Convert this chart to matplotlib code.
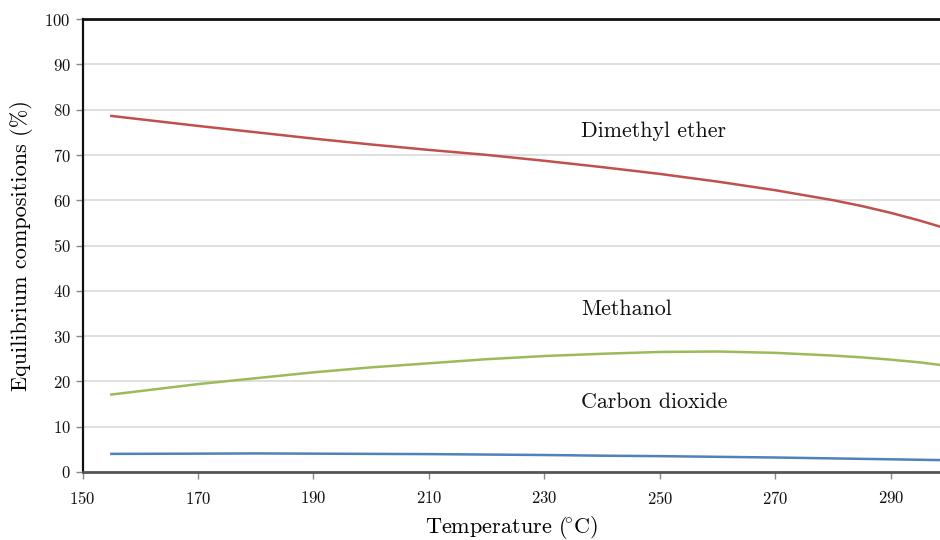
import matplotlib
matplotlib.use("Agg")
import matplotlib.pyplot as plt

plt.rcParams["font.family"] = ["cmr10", "DejaVu Serif"]
plt.rcParams["mathtext.fontset"] = "cm"
plt.rcParams["axes.formatter.use_mathtext"] = True

# Equilibrium composition vs temperature (%)
temperature = [155, 170, 180, 190, 200, 210, 220, 230, 240, 250, 260, 270, 280, 285, 290, 295, 300]
dimethyl_ether = [78.6, 76.4, 75.0, 73.6, 72.3, 71.1, 70.0, 68.7, 67.3, 65.8, 64.1, 62.2,
                  60.0, 58.7, 57.2, 55.5, 53.6]
methanol = [17.1, 19.4, 20.7, 22.0, 23.1, 24.0, 24.9, 25.6, 26.1, 26.5, 26.6, 26.3,
            25.7, 25.3, 24.8, 24.2, 23.4]
carbon_dioxide = [4.0, 4.05, 4.1, 4.05, 4.0, 3.95, 3.85, 3.75, 3.6, 3.5, 3.35, 3.2,
                  3.0, 2.9, 2.8, 2.7, 2.6]

x_ticks = [150, 170, 190, 210, 230, 250, 270, 290]
y_ticks = list(range(0, 101, 10))

series = [
    ("Dimethyl ether", dimethyl_ether, "#C0504D", (236.3, 75.3)),
    ("Methanol", methanol, "#9BBB59", (236.3, 36.0)),
    ("Carbon dioxide", carbon_dioxide, "#4F81BD", (236.3, 15.5)),
]

fig = plt.figure(figsize=(9.4, 5.4), dpi=100)
ax = fig.add_axes([82.5 / 940, 1 - 472 / 540, (940 - 82.5) / 940, (472 - 19) / 540])

for name, values, color, (tx, ty) in series:
    ax.plot(temperature, values, color=color, lw=1.8, zorder=3)
    ax.text(tx, ty, name, fontsize=15.8, va="center", ha="left", color="#111111")

ax.set_xlim(150, 298.5)
ax.set_ylim(0, 100)
ax.set_xticks(x_ticks)
ax.set_yticks(y_ticks)
ax.tick_params(axis="both", labelsize=12, direction="out", length=5,
               width=1, color="#888888", labelcolor="#111111")
ax.tick_params(axis="x", pad=8)

ax.yaxis.grid(True, color="#d9d9d9", lw=1.2)
ax.set_axisbelow(True)

ax.spines["right"].set_visible(False)
ax.spines["top"].set_color("#111111")
ax.spines["top"].set_linewidth(2)
ax.spines["left"].set_color("#111111")
ax.spines["left"].set_linewidth(1.6)
ax.spines["bottom"].set_color("#555555")
ax.spines["bottom"].set_linewidth(2)

ax.set_xlabel(r"Temperature ($\!^{\circ}$C)", fontsize=16, labelpad=5)
ax.set_ylabel("Equilibrium compositions (%)", fontsize=16, labelpad=8)

fig.savefig("out.png", dpi=100)
